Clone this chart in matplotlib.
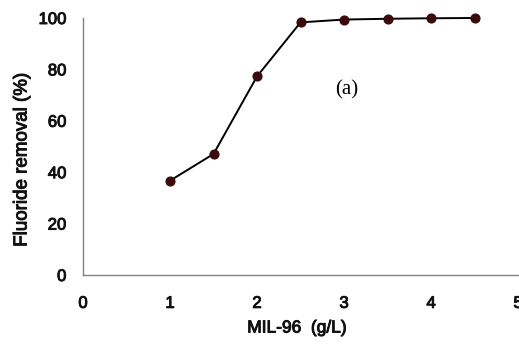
import matplotlib
matplotlib.use("Agg")
import matplotlib.pyplot as plt
import matplotlib.patheffects as pe

dose = [1.0, 1.5, 2.0, 2.5, 3.0, 3.5, 4.0, 4.5]
removal = [36.7, 47.1, 77.3, 98.3, 99.4, 99.7, 99.9, 100.0]
x_ticks = [0, 1, 2, 3, 4, 5]
y_ticks = [0, 20, 40, 60, 80, 100]

fig = plt.figure(figsize=(5.19, 3.44), dpi=100)
ax = fig.add_axes([83 / 519, 69 / 344, 436 / 519, 257 / 344])

ax.plot(dose, removal, color="black", linewidth=1.4, marker="o",
        markersize=6.3, markerfacecolor="#3a0a0c", markeredgecolor="#3a0a0c",
        clip_on=False, zorder=3)

ax.set_xlim(0, 5.01)
ax.set_ylim(0, 100)
ax.set_xticks(x_ticks)
ax.set_yticks(y_ticks)

# thicken regular glyphs a little, the scan looks heavier than plain Arial
heavy = [pe.withStroke(linewidth=0.7, foreground="#111111")]
font = dict(family="Liberation Sans", fontsize=12, color="#111111")
ax.set_xticklabels([str(t) for t in x_ticks], path_effects=heavy, **font)
ax.set_yticklabels([str(t) for t in y_ticks], path_effects=heavy, **font)
ax.tick_params(axis="both", length=0)
ax.tick_params(axis="x", pad=15)
ax.tick_params(axis="y", pad=12)

for side in ("top", "right"):
    ax.spines[side].set_visible(False)
for side in ("left", "bottom"):
    ax.spines[side].set_color("#808080")
    ax.spines[side].set_linewidth(1.0)

fig.text(297 / 519, 1 - 328 / 344, "MIL-96  (g/L)", ha="center", va="center",
         family="Liberation Sans", fontsize=12.5, color="#111111", path_effects=heavy)
fig.text(22 / 519, 1 - 160 / 344, "Fluoride removal (%)", ha="center", va="center",
         rotation=90, family="Liberation Sans", fontsize=13.5, color="#111111",
         path_effects=heavy)

ax.text(3.03, 72, "(a)", family="Liberation Serif", fontsize=15, ha="center",
        va="center", color="black")

fig.savefig("out.png", dpi=100)
